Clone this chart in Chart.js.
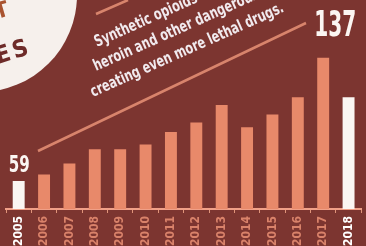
<!DOCTYPE html>
<html>
<head>
<meta charset="utf-8">
<script src="https://cdn.jsdelivr.net/npm/chart.js@4.4.0/dist/chart.umd.min.js"></script>
<style>
  html, body { margin: 0; padding: 0; background: #7b342f; }
  #wrap { width: 366px; height: 246px; }
</style>
</head>
<body>
<div id="wrap"><canvas id="deaths" width="366" height="246"></canvas></div>
<script>
// data
const years = ['2005','2006','2007','2008','2009','2010','2011','2012','2013','2014','2015','2016','2017','2018'];
const deaths = [59, 63, 70, 79, 79, 82, 90, 96, 107, 93, 101, 112, 137, 112];
const highlightYears = ['2005', '2018'];
const callouts = [{ year: '2005', text: '59' }, { year: '2017', text: '137' }];
const blurb = [
   'Synthetic opioids are being mixed with',
   'heroin and other dangerous drugs,',
   'creating even more lethal drugs.'
];

const BG = '#7c3530';
const BAR = '#e8896a';
const WHITE = '#fbf6f2';

const condensed = '"DejaVu Sans Condensed", "Liberation Sans Narrow", "DejaVu Sans", sans-serif';

// draw text squeezed to a given width
function squeezeText(ctx, str, x, y, angle, font, width) {
   ctx.save();
   ctx.translate(x, y);
   ctx.rotate(angle);
   ctx.font = font;
   let w = ctx.measureText(str).width;
   ctx.scale(width / w, 1);
   ctx.fillText(str, 0, 0);
   ctx.restore();
}

const backdrop = {
   id: 'backdrop',
   beforeDraw(chart) {
      const ctx = chart.ctx;
      ctx.save();
      ctx.fillStyle = BG;
      ctx.fillRect(0, 0, chart.width, chart.height);

      // badge in the corner
      ctx.fillStyle = '#f6f0ec';
      ctx.beginPath();
      ctx.arc(-20, -5, 97, 0, Math.PI * 2);
      ctx.fill();

      ctx.fillStyle = '#a9532f';
      ctx.font = 'bold 22px ' + condensed;
      ctx.textBaseline = 'alphabetic';
      ctx.save();
      ctx.translate(-3, 19);
      ctx.rotate(-0.28);
      ctx.fillText('T', 0, 0);
      ctx.restore();

      ctx.fillStyle = '#6e2b29';
      ctx.save();
      ctx.translate(-2, 64);
      ctx.rotate(-0.3);
      ctx.font = 'bold 24px ' + condensed;
      ctx.letterSpacing = '3px';
      ctx.fillText('ES', 0, 0);
      ctx.restore();

      // slanted rules
      ctx.strokeStyle = '#d8846c';
      ctx.lineWidth = 2.5;
      ctx.beginPath();
      ctx.moveTo(96, 14);
      ctx.lineTo(128, 0);
      ctx.moveTo(38, 151);
      ctx.lineTo(306, 23);
      ctx.stroke();

      // blurb text
      ctx.fillStyle = '#f1eaee';
      const ang = -0.42;
      const f = 'bold 16px ' + condensed;
      ctx.font = f;
      let k = 210 / ctx.measureText(blurb[2]).width;
      squeezeText(ctx, blurb[0], 97, 47, ang, f, ctx.measureText(blurb[0]).width * k);
      ctx.font = f;
      squeezeText(ctx, blurb[1], 96, 71, ang, f, ctx.measureText(blurb[1]).width * k);
      ctx.font = f;
      squeezeText(ctx, blurb[2], 93, 97, ang, f, 210);
      ctx.restore();
   },
   afterDatasetsDraw(chart) {
      const ctx = chart.ctx;
      const bars = chart.getDatasetMeta(0).data;
      ctx.save();
      ctx.fillStyle = WHITE;
      ctx.textBaseline = 'alphabetic';
      ctx.textAlign = 'left';
      callouts.forEach(c => {
         let bar = bars[years.indexOf(c.year)];
         if (c.text === '59') {
            squeezeText(ctx, c.text, bar.x - 10, bar.y - 9, 0, 'bold 23px ' + condensed, 21);
         } else {
            squeezeText(ctx, c.text, bar.x - 9, bar.y - 22, 0, 'bold 36px ' + condensed, 42);
         }
      });
      ctx.restore();
   }
};

const ctx = document.getElementById('deaths').getContext('2d');
const chart = new Chart(ctx, {
   type: 'bar',
   data: {
      labels: years,
      datasets: [{
         data: deaths,
         backgroundColor: years.map(y => highlightYears.includes(y) ? WHITE : BAR),
         borderWidth: 0,
         barPercentage: 1,
         categoryPercentage: 0.47
      }]
   },
   options: {
      responsive: false,
      animation: false,
      devicePixelRatio: 1,
      layout: { padding: { left: 6, right: 1, top: 0, bottom: 0 } },
      plugins: { legend: { display: false }, tooltip: { enabled: false } },
      scales: {
         x: {
            offset: true,
            grid: { display: true, drawOnChartArea: false, offset: true, tickLength: 4, color: '#e0947a', lineWidth: 1 },
            border: { display: true, color: '#f0a088', width: 2 },
            ticks: {
               autoSkip: false,
               minRotation: 90,
               maxRotation: 90,
               padding: 3,
               font: { family: condensed, size: 12, weight: 'bold' },
               color: c => highlightYears.includes(years[c.index]) ? '#ffffff' : '#d9826a'
            },
            afterFit(scale) { scale.height = 37; }
         },
         y: {
            display: false,
            min: 41.2,
            max: 173.5
         }
      }
   },
   plugins: [backdrop]
});
</script>
</body>
</html>
